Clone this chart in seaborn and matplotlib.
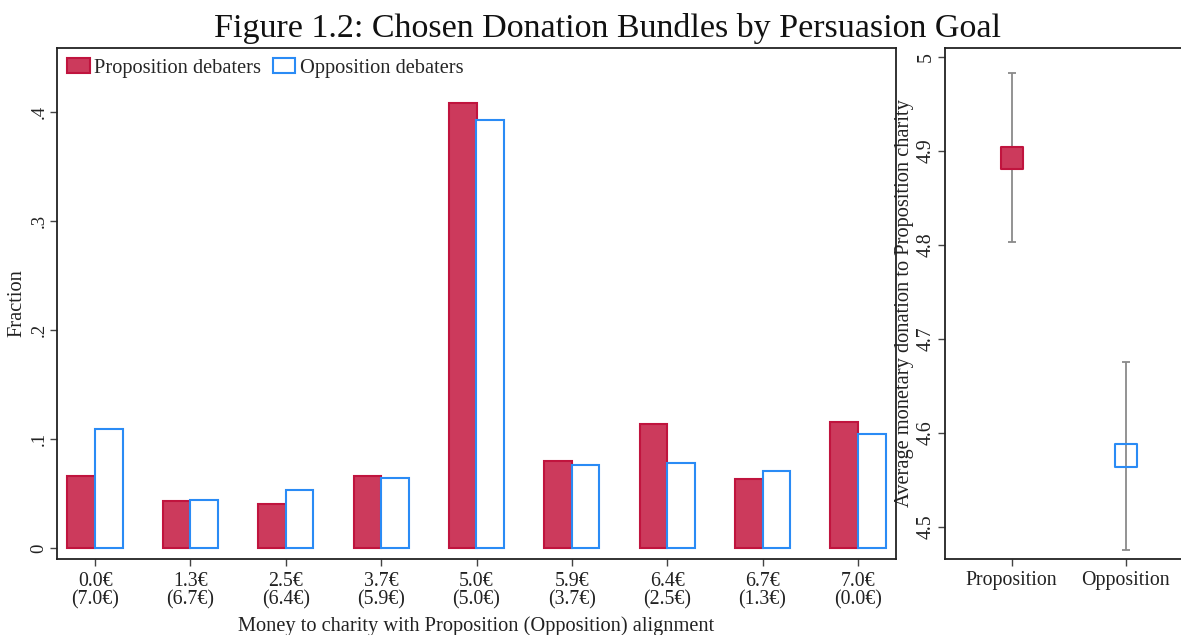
import matplotlib
matplotlib.use("Agg")
import matplotlib.pyplot as plt
import seaborn as sns
import pandas as pd
import numpy as np

# ---- data ----
categories = ["0.0€\n(7.0€)", "1.3€\n(6.7€)", "2.5€\n(6.4€)", "3.7€\n(5.9€)", "5.0€\n(5.0€)",
              "5.9€\n(3.7€)", "6.4€\n(2.5€)", "6.7€\n(1.3€)", "7.0€\n(0.0€)"]
prop_fraction = [0.066, 0.043, 0.040, 0.066, 0.408, 0.080, 0.114, 0.063, 0.116]
opp_fraction = [0.109, 0.044, 0.053, 0.064, 0.393, 0.076, 0.078, 0.071, 0.105]
series_names = ["Proposition debaters", "Opposition debaters"]

groups = ["Proposition", "Opposition"]
group_mean = [4.893, 4.576]
group_ci_low = [4.803, 4.476]
group_ci_high = [4.983, 4.676]

left_yticks = [0, 0.1, 0.2, 0.3, 0.4]
left_yticklabels = ["0", ".1", ".2", ".3", ".4"]
right_yticks = [4.5, 4.6, 4.7, 4.8, 4.9, 5.0]
right_yticklabels = ["4.5", "4.6", "4.7", "4.8", "4.9", "5"]

# ---- style ----
sns.set_theme(style="white")
plt.rcParams["font.family"] = ["Liberation Serif", "DejaVu Serif"]
plt.rcParams["axes.edgecolor"] = "#222222"
plt.rcParams["axes.linewidth"] = 1.3

RED_FILL = "#CC3A5C"
RED_EDGE = "#C0143E"
BLUE_EDGE = "#2A8BF5"
GREY = "#8A8A8A"
FS = 14.7
TFS = 14.3

W, H = 1181, 635
fig = plt.figure(figsize=(W / 100, H / 100), dpi=100)
fig.patch.set_facecolor("white")

def ax_rect(x0, y0, x1, y1):
    return [x0 / W, 1 - y1 / H, (x1 - x0) / W, (y1 - y0) / H]

ax = fig.add_axes(ax_rect(57, 48, 896, 559))
ax2 = fig.add_axes(ax_rect(945, 48, 1181, 559))

# ---- left bar chart ----
df = pd.DataFrame({
    "cat": categories * 2,
    "frac": prop_fraction + opp_fraction,
    "series": [series_names[0]] * len(categories) + [series_names[1]] * len(categories),
})
sns.barplot(data=df, x="cat", y="frac", hue="series", order=categories,
            hue_order=series_names, width=0.58, ax=ax, saturation=1,
            palette=[RED_FILL, "white"], errorbar=None)

for cont, fc, ec in zip(ax.containers, [RED_FILL, "white"], [RED_EDGE, BLUE_EDGE]):
    for p in cont.patches:
        p.set_facecolor(fc)
        p.set_edgecolor(ec)
        p.set_linewidth(1.5)

ax.set_xlim(-0.4, 8.4)
ax.set_ylim(-0.0101, 0.4586)
ax.set_yticks(left_yticks)
ax.set_yticklabels(left_yticklabels, rotation=90, va="center")
ax.tick_params(axis="both", which="both", direction="out", length=5, width=1,
               color="#444444", labelsize=TFS, labelcolor="#222222", pad=4,
               left=True, bottom=True)
ax.tick_params(axis="y", pad=2, labelsize=13.5)
for lab in ax.get_xticklabels():
    lab.set_linespacing(0.98)
ax.set_ylabel("Fraction", fontsize=FS, color="#222222")
ax.yaxis.set_label_coords(-0.036, 0.5)
ax.set_xlabel("Money to charity with Proposition (Opposition) alignment", fontsize=FS, color="#222222")
ax.xaxis.set_label_coords(0.5, -0.112)
for s in ax.spines.values():
    s.set_visible(True)

leg = ax.legend(loc="upper left", frameon=False, fontsize=FS, ncol=2,
                handlelength=1.1, handleheight=0.7, handletextpad=0.2,
                columnspacing=0.6, borderaxespad=0.3, borderpad=0.2,
                bbox_to_anchor=(0.0, 1.0))
for h, fc, ec in zip(leg.legend_handles, [RED_FILL, "white"], [RED_EDGE, BLUE_EDGE]):
    h.set_facecolor(fc)
    h.set_edgecolor(ec)
    h.set_linewidth(1.5)

# ---- right mean/CI panel ----
xpos = np.arange(len(groups))
mean = np.array(group_mean)
lo = np.array(group_ci_low)
hi = np.array(group_ci_high)
ax2.errorbar(xpos, mean, yerr=[mean - lo, hi - mean], fmt="none", ecolor=GREY,
             elinewidth=1.3, capsize=3, capthick=1.3, zorder=2)
rdf = pd.DataFrame({"x": xpos, "mean": mean, "group": groups})
sns.scatterplot(data=rdf[rdf.group == groups[0]], x="x", y="mean", marker="s", s=260,
                color=RED_FILL, edgecolor=RED_EDGE, linewidth=1.5, ax=ax2, zorder=3, legend=False)
sns.scatterplot(data=rdf[rdf.group == groups[1]], x="x", y="mean", marker="s", s=260,
                facecolor="none", edgecolor=BLUE_EDGE, linewidth=1.5, ax=ax2, zorder=3, legend=False)

ax2.set_xlim(-0.585, 1.485)
ax2.set_ylim(4.466, 5.0096)
ax2.set_xticks(xpos)
ax2.set_xticklabels(groups)
ax2.set_yticks(right_yticks)
ax2.set_yticklabels(right_yticklabels, rotation=90, va="center")
ax2.tick_params(axis="both", which="both", direction="out", length=5, width=1,
                color="#444444", labelsize=TFS, labelcolor="#222222", pad=2,
                left=True, bottom=True)
ax2.tick_params(axis="x", pad=4)
ax2.set_xlabel("")
ax2.set_ylabel("Average monetary donation to Proposition charity", fontsize=FS, color="#222222")
ax2.yaxis.set_label_coords(-0.131, 0.5)
ax2.spines["right"].set_visible(False)

fig.suptitle("Figure 1.2: Chosen Donation Bundles by Persuasion Goal", fontsize=24.5,
             x=608 / W, y=1 - 28 / H, va="center", color="#111111")

fig.savefig("out.png", dpi=100, facecolor="white")
